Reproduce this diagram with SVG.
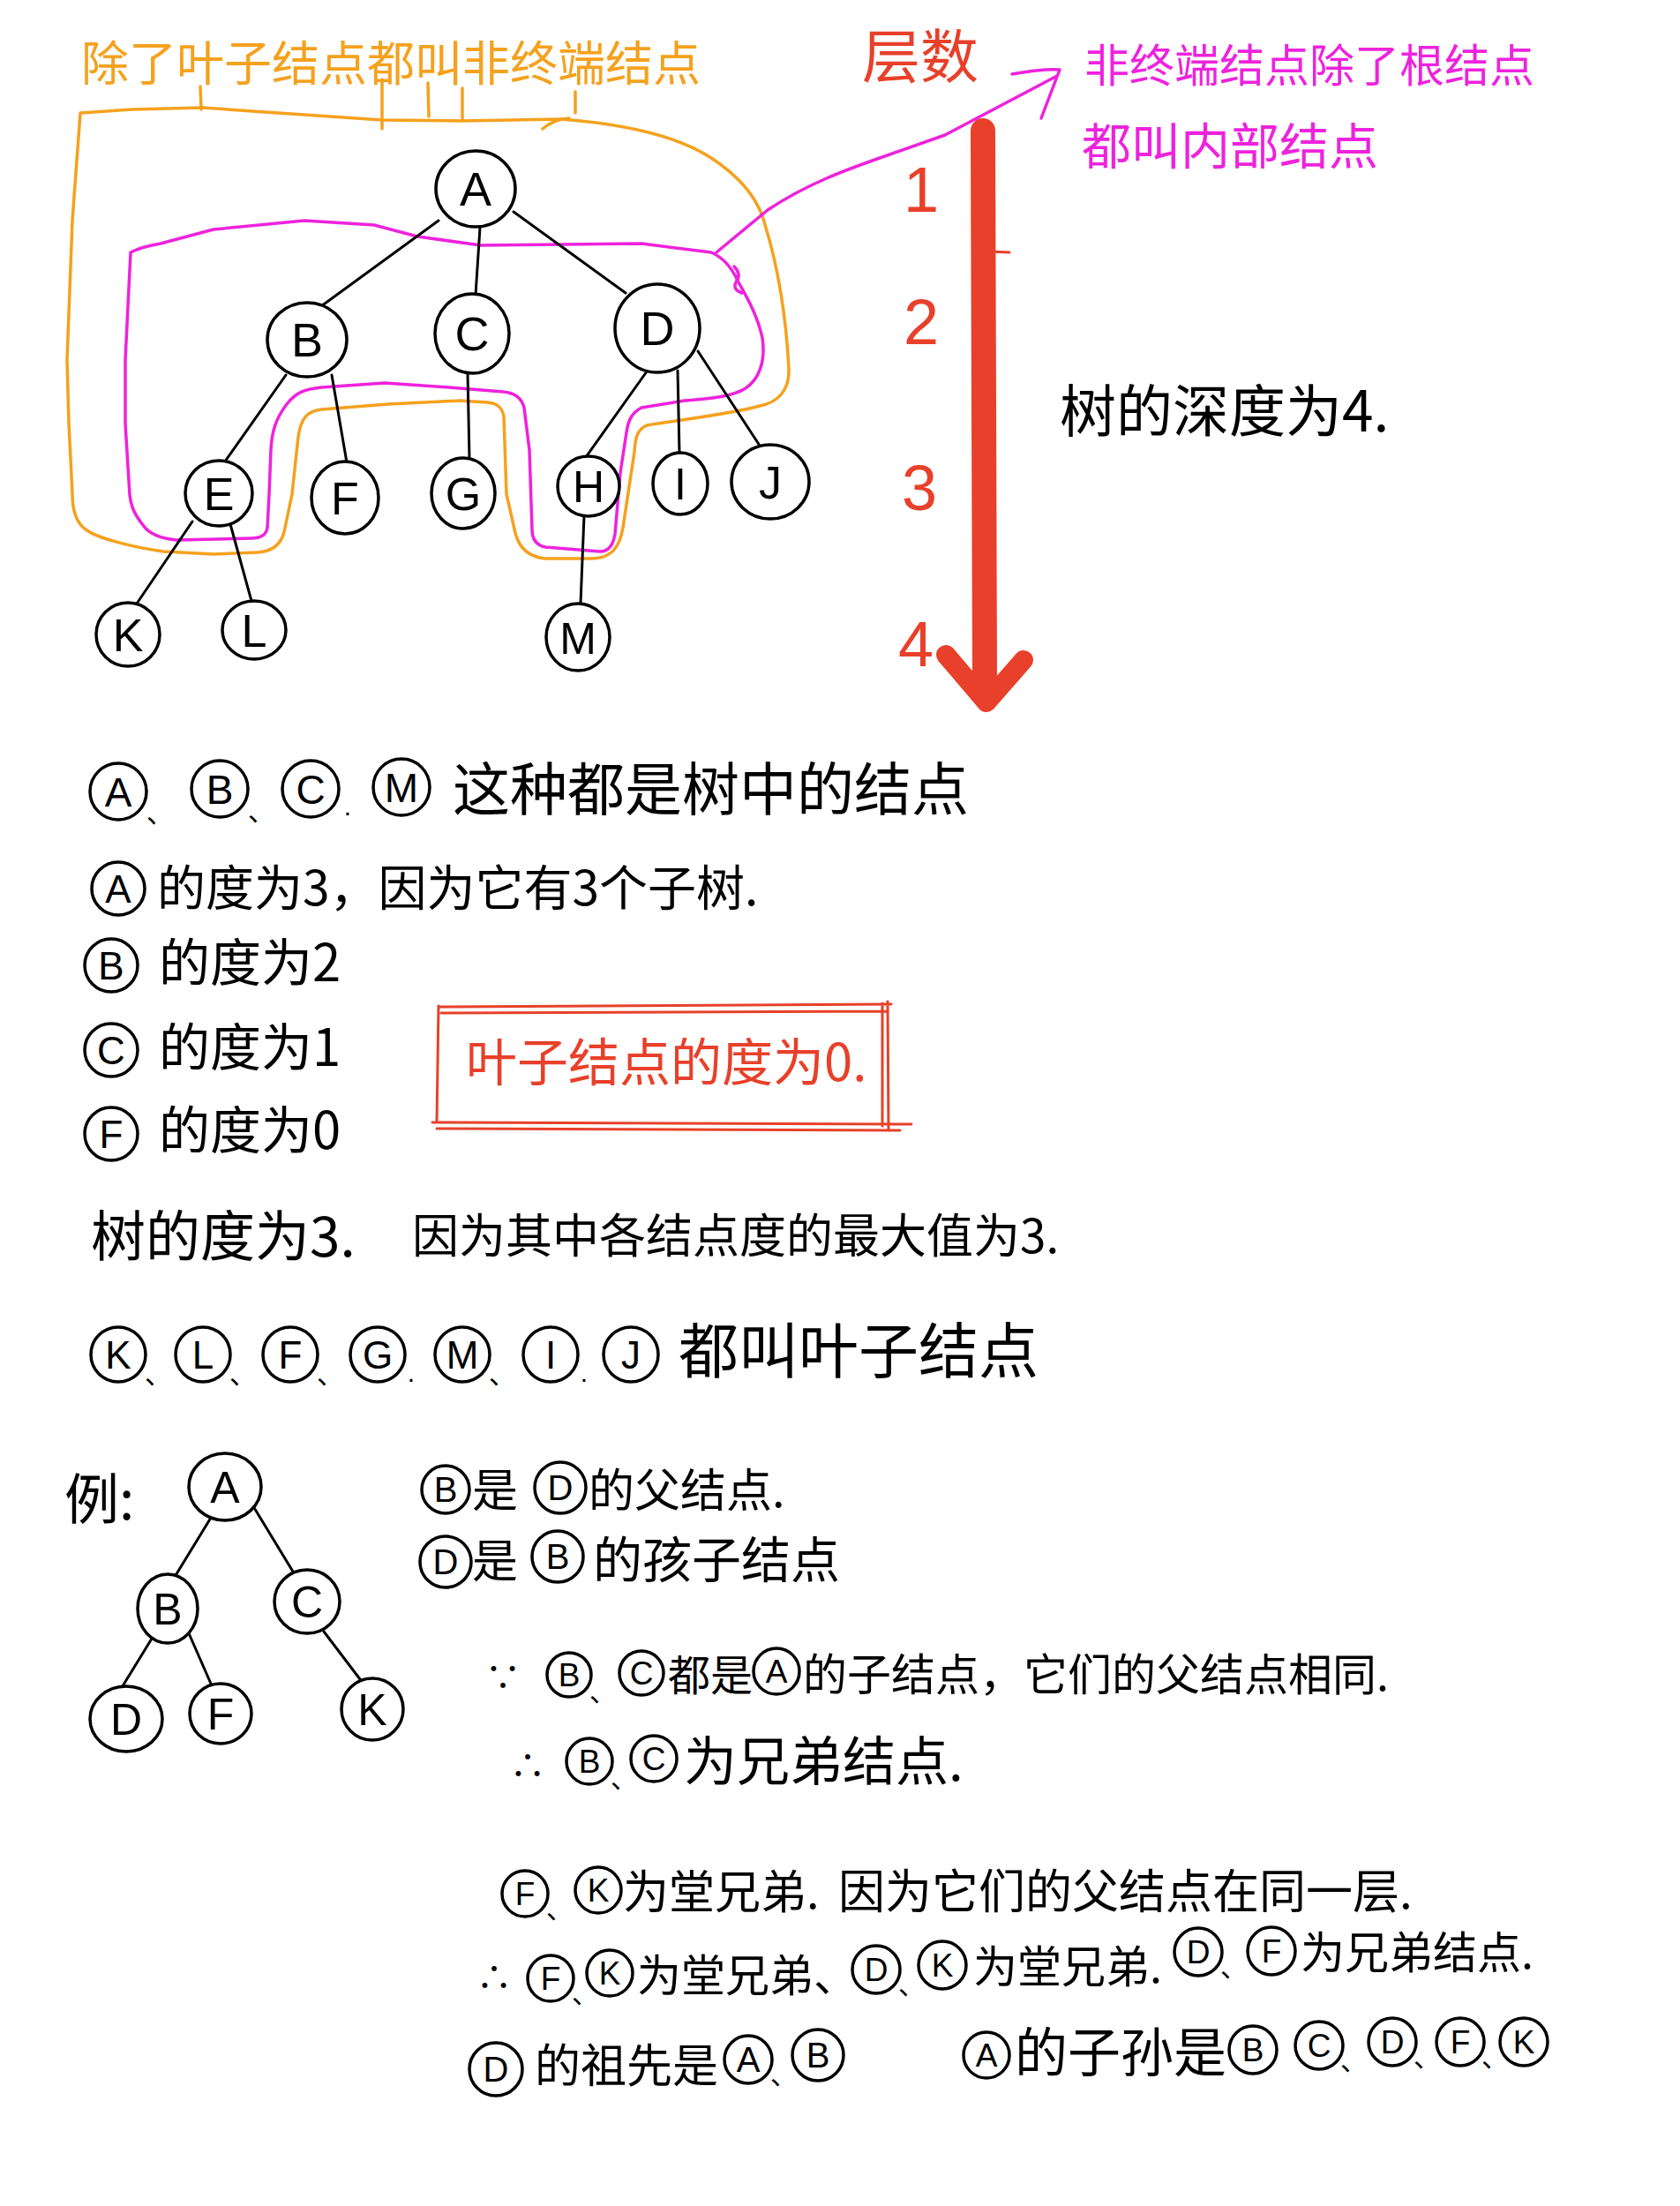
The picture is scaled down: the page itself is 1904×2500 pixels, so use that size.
<svg xmlns="http://www.w3.org/2000/svg" width="1904" height="2500" viewBox="0 0 1904 2500">
<style>
.cn{font-family:"Noto Sans CJK SC","Noto Sans",sans-serif}
.lt{font-family:"Liberation Sans",Arial,sans-serif;text-anchor:middle}
.node{fill:#fff;stroke:#000;stroke-width:3.5}
.edge{stroke:#000;stroke-width:3;fill:none;stroke-linecap:round}
.sc{fill:none;stroke:#000;stroke-width:3.5}
.or{stroke:#F5A11E;fill:none;stroke-width:3.5;stroke-linejoin:round;stroke-linecap:round}
.mg{stroke:#EE22DD;fill:none;stroke-width:3.5;stroke-linejoin:round;stroke-linecap:round}
.rd{stroke:#E8402A;fill:none;stroke-linejoin:round;stroke-linecap:round}
.sep{font-family:"Noto Sans CJK SC",sans-serif;font-size:30px}
</style>
<rect width="1904" height="2500" fill="#fff"/>

<!-- annotations top -->
<g id="annotations">
  <text class="cn" x="92" y="92" font-size="54" fill="#F5A11E">除了叶子结点都叫非终端结点</text>
  <path class="or" d="M227,98 L228,124 M433,90 L433,146 M485,94 L486,132 M524,100 L524,136 M652,104 L652,128 M615,146 Q628,135 645,134"/>
  <path class="or" d="M91,128 L150,124 L230,122 L300,127 L433,136 L524,137 L636,135 C700,140 765,152 806,179 C835,198 855,220 864,245 C882,300 891,360 894,418 C895,442 882,456 861,460 C835,468 770,476 733,482 C722,487 720,496 719,512 L706,598 C702,622 692,632 672,633 L618,633 C598,631 588,620 584,604 L574,560 L571,472 C569,461 563,457 552,456 L521,454 L440,458 L364,464 C348,466 341,474 338,495 L331,560 L322,603 C318,618 308,625 292,626 L242,628 L185,625 C150,620 110,610 97,600 C86,592 82,578 82,560 L78,480 L76,408 L82,250 Z"/>
  <path class="mg" d="M148,286 C160,280 170,278 182,276 L242,260 L345,250 L424,255 L473,268 L545,278 L727,276 L806,286 C820,292 830,305 836,318 C845,335 858,355 864,383 C868,410 860,430 845,440 C830,450 800,452 776,454 L727,462 C716,468 712,476 710,490 L703,536 L697,605 C695,618 690,625 680,625 L618,620 C608,618 603,612 603,600 L600,510 L594,462 C591,450 582,445 570,444 L509,439 L436,434 L364,439 C345,441 335,445 325,458 C312,475 308,490 307,510 L305,560 L303,598 C302,606 295,610 285,610 L200,612 C180,610 168,604 162,595 C150,580 148,570 147,561 L142,480 L142,408 Z"/>
  <path class="mg" d="M832,302 q9,9 2,18 q-4,8 7,12"/>
  <path class="mg" d="M812,286 L870,238 C915,208 960,192 1000,178 L1071,153 L1198,86 M1147,84 C1170,80 1190,78 1201,79 L1180,134"/>
  <text class="cn" x="977" y="88" font-size="66" fill="#E8402A">层数</text>
  <text class="cn" x="1229" y="93" font-size="51" fill="#EE22DD">非终端结点除了根结点</text>
  <text class="cn" x="1226" y="186" font-size="56" fill="#EE22DD">都叫内部结点</text>
  <path class="rd" d="M1114,148 L1116,770" stroke-width="28" stroke-linecap="butt"/>
  <path class="rd" d="M1072,742 L1118,796 L1160,748" stroke-width="22"/>
  <path class="rd" d="M1120,285 L1144,286" stroke-width="3"/>
  <g class="lt" fill="#E8402A" font-size="72">
    <text x="1044" y="240">1</text>
    <text x="1044" y="390">2</text>
    <text x="1042" y="578">3</text>
    <text x="1038" y="755">4</text>
  </g>
  <text class="cn" x="1201" y="489" font-size="64" fill="#000">树的深度为4.</text>
</g>

<!-- connectors -->
<g id="connectors" class="edge">
  <line x1="497" y1="250" x2="364" y2="347"/>
  <line x1="544" y1="258" x2="539" y2="334"/>
  <line x1="582" y1="240" x2="709" y2="332"/>
  <line x1="324" y1="425" x2="255" y2="523"/>
  <line x1="376" y1="425" x2="393" y2="524"/>
  <line x1="530" y1="423" x2="532" y2="520"/>
  <line x1="733" y1="421" x2="664" y2="518"/>
  <line x1="768" y1="420" x2="770" y2="513"/>
  <line x1="791" y1="398" x2="861" y2="505"/>
  <line x1="218" y1="591" x2="155" y2="684"/>
  <line x1="261" y1="594" x2="285" y2="681"/>
  <line x1="662" y1="584" x2="658" y2="684"/>
  <line x1="239" y1="1720" x2="198" y2="1787"/>
  <line x1="287" y1="1707" x2="332" y2="1781"/>
  <line x1="172" y1="1857" x2="137" y2="1914"/>
  <line x1="214" y1="1851" x2="239" y2="1908"/>
  <line x1="367" y1="1849" x2="408" y2="1903"/>
</g>

<!-- tree 1 nodes -->
<g id="t1-A"><ellipse class="node" cx="539" cy="214" rx="45" ry="43"/><text class="lt" x="539" y="233" font-size="54">A</text></g>
<g id="t1-B"><ellipse class="node" cx="348" cy="385" rx="45" ry="42"/><text class="lt" x="348" y="404" font-size="54">B</text></g>
<g id="t1-C"><ellipse class="node" cx="535" cy="378" rx="42" ry="45"/><text class="lt" x="535" y="397" font-size="54">C</text></g>
<g id="t1-D"><ellipse class="node" cx="745" cy="372" rx="48" ry="50"/><text class="lt" x="745" y="391" font-size="54">D</text></g>
<g id="t1-E"><ellipse class="node" cx="248" cy="559" rx="38" ry="37"/><text class="lt" x="248" y="578" font-size="52">E</text></g>
<g id="t1-F"><ellipse class="node" cx="391" cy="564" rx="38" ry="41"/><text class="lt" x="391" y="583" font-size="52">F</text></g>
<g id="t1-G"><ellipse class="node" cx="525" cy="559" rx="36" ry="40"/><text class="lt" x="525" y="578" font-size="52">G</text></g>
<g id="t1-H"><ellipse class="node" cx="667" cy="551" rx="35" ry="34"/><text class="lt" x="667" y="569" font-size="50">H</text></g>
<g id="t1-I"><ellipse class="node" cx="771" cy="548" rx="31" ry="35"/><text class="lt" x="771" y="566" font-size="50">I</text></g>
<g id="t1-J"><ellipse class="node" cx="873" cy="546" rx="44" ry="42"/><text class="lt" x="873" y="565" font-size="52">J</text></g>
<g id="t1-K"><ellipse class="node" cx="145" cy="719" rx="36" ry="36"/><text class="lt" x="145" y="738" font-size="52">K</text></g>
<g id="t1-L"><ellipse class="node" cx="288" cy="714" rx="36" ry="33"/><text class="lt" x="288" y="733" font-size="52">L</text></g>
<g id="t1-M"><ellipse class="node" cx="655" cy="722" rx="36" ry="38"/><text class="lt" x="655" y="741" font-size="50">M</text></g>

<!-- middle text -->
<g id="line1">
  <circle class="sc" cx="134" cy="897" r="32"/><text class="lt" x="134" y="914" font-size="46">A</text><text class="sep" x="166" y="932">、</text>
  <circle class="sc" cx="249" cy="894" r="32"/><text class="lt" x="249" y="911" font-size="46">B</text><text class="sep" x="281" y="930">、</text>
  <circle class="sc" cx="352" cy="894" r="32"/><text class="lt" x="352" y="911" font-size="46">C</text><text class="lt" x="394" y="924" font-size="30">.</text>
  <circle class="sc" cx="455" cy="892" r="32"/><text class="lt" x="455" y="909" font-size="46">M</text>
  <text class="cn" x="513" y="918" font-size="65">这种都是树中的结点</text>
</g>
<g id="line2">
  <circle class="sc" cx="134" cy="1007" r="30"/><text class="lt" x="134" y="1023" font-size="44">A</text>
  <text class="cn" x="178" y="1026" font-size="55">的度为3，因为它有3个子树.</text>
</g>
<g id="line3">
  <circle class="sc" cx="126" cy="1094" r="30"/><text class="lt" x="126" y="1110" font-size="44">B</text>
  <text class="cn" x="180" y="1112" font-size="58">的度为2</text>
</g>
<g id="line4">
  <circle class="sc" cx="126" cy="1190" r="30"/><text class="lt" x="126" y="1206" font-size="44">C</text>
  <text class="cn" x="180" y="1208" font-size="58">的度为1</text>
</g>
<g id="line5">
  <circle class="sc" cx="126" cy="1285" r="30"/><text class="lt" x="126" y="1301" font-size="44">F</text>
  <text class="cn" x="180" y="1302" font-size="58">的度为0</text>
</g>
<g id="leafbox">
  <path class="rd" stroke-width="3" d="M497,1141 L1010,1138 M500,1148 L1005,1146 M497,1140 L495,1272 M1000,1137 L1000,1276 M1006,1135 L1007,1281 M490,1272 L1033,1274 M495,1279 L1020,1281"/>
  <text class="cn" x="528" y="1225" font-size="58" fill="#E8402A">叶子结点的度为0.</text>
</g>
<g id="line6">
  <text class="cn" x="103" y="1424" font-size="62">树的度为3.</text>
  <text class="cn" x="467" y="1420" font-size="53">因为其中各结点度的最大值为3.</text>
</g>
<g id="line7">
  <circle class="sc" cx="134" cy="1535" r="31"/><text class="lt" x="134" y="1551" font-size="44">K</text><text class="sep" x="164" y="1568">、</text>
  <circle class="sc" cx="230" cy="1535" r="31"/><text class="lt" x="230" y="1551" font-size="44">L</text><text class="sep" x="260" y="1568">、</text>
  <circle class="sc" cx="329" cy="1535" r="31"/><text class="lt" x="329" y="1551" font-size="44">F</text><text class="sep" x="359" y="1568">、</text>
  <circle class="sc" cx="428" cy="1535" r="31"/><text class="lt" x="428" y="1551" font-size="44">G</text><text class="lt" x="466" y="1566" font-size="30">.</text>
  <circle class="sc" cx="524" cy="1535" r="31"/><text class="lt" x="524" y="1551" font-size="44">M</text><text class="sep" x="554" y="1568">、</text>
  <circle class="sc" cx="624" cy="1535" r="31"/><text class="lt" x="624" y="1551" font-size="44">I</text><text class="lt" x="662" y="1566" font-size="30">.</text>
  <circle class="sc" cx="715" cy="1535" r="31"/><text class="lt" x="715" y="1551" font-size="44">J</text>
  <text class="cn" x="769" y="1556" font-size="68">都叫叶子结点</text>
</g>

<!-- example -->
<text class="cn" x="73" y="1722" font-size="62">例:</text>
<g id="t2-A"><ellipse class="node" cx="255" cy="1685" rx="41" ry="38"/><text class="lt" x="255" y="1703" font-size="50">A</text></g>
<g id="t2-B"><ellipse class="node" cx="190" cy="1823" rx="34" ry="39"/><text class="lt" x="190" y="1841" font-size="50">B</text></g>
<g id="t2-C"><ellipse class="node" cx="348" cy="1815" rx="37" ry="36"/><text class="lt" x="348" y="1833" font-size="50">C</text></g>
<g id="t2-D"><ellipse class="node" cx="143" cy="1948" rx="41" ry="37"/><text class="lt" x="143" y="1966" font-size="50">D</text></g>
<g id="t2-F"><ellipse class="node" cx="250" cy="1942" rx="35" ry="34"/><text class="lt" x="250" y="1960" font-size="50">F</text></g>
<g id="t2-K"><ellipse class="node" cx="422" cy="1937" rx="35" ry="35"/><text class="lt" x="422" y="1955" font-size="50">K</text></g>

<g id="row1">
  <circle class="sc" cx="505" cy="1688" r="27"/><text class="lt" x="505" y="1702" font-size="40">B</text>
  <text class="cn" x="535" y="1708" font-size="52">是</text>
  <circle class="sc" cx="635" cy="1686" r="29"/><text class="lt" x="635" y="1700" font-size="40">D</text>
  <text class="cn" x="667" y="1708" font-size="52">的父结点.</text>
</g>
<g id="row2">
  <circle class="sc" cx="505" cy="1770" r="29"/><text class="lt" x="505" y="1784" font-size="40">D</text>
  <text class="cn" x="535" y="1788" font-size="52">是</text>
  <circle class="sc" cx="632" cy="1764" r="29"/><text class="lt" x="632" y="1778" font-size="40">B</text>
  <text class="cn" x="672" y="1788" font-size="56">的孩子结点</text>
</g>
<g id="row3">
  <text class="cn" x="550" y="1915" font-size="40">∵</text>
  <circle class="sc" cx="645" cy="1898" r="25"/><text class="lt" x="645" y="1911" font-size="37">B</text><text class="sep" x="668" y="1928">、</text>
  <circle class="sc" cx="727" cy="1896" r="25"/><text class="lt" x="727" y="1909" font-size="37">C</text>
  <text class="cn" x="757" y="1916" font-size="48">都是</text>
  <circle class="sc" cx="880" cy="1894" r="26"/><text class="lt" x="880" y="1907" font-size="37">A</text>
  <text class="cn" x="910" y="1916" font-size="50">的子结点，它们的父结点相同.</text>
</g>
<g id="row4">
  <text class="cn" x="578" y="2015" font-size="40">∴</text>
  <circle class="sc" cx="668" cy="1996" r="26"/><text class="lt" x="668" y="2009" font-size="37">B</text><text class="sep" x="692" y="2026">、</text>
  <circle class="sc" cx="741" cy="1993" r="26"/><text class="lt" x="741" y="2006" font-size="37">C</text>
  <text class="cn" x="775" y="2018" font-size="60">为兄弟结点.</text>
</g>
<g id="row5">
  <circle class="sc" cx="595" cy="2146" r="26"/><text class="lt" x="595" y="2159" font-size="37">F</text><text class="sep" x="619" y="2174">、</text>
  <circle class="sc" cx="678" cy="2142" r="26"/><text class="lt" x="678" y="2155" font-size="37">K</text>
  <text class="cn" x="706" y="2163" font-size="52">为堂兄弟.</text>
  <text class="cn" x="950" y="2163" font-size="53">因为它们的父结点在同一层.</text>
</g>
<g id="row6">
  <text class="cn" x="540" y="2255" font-size="40">∴</text>
  <circle class="sc" cx="624" cy="2242" r="26"/><text class="lt" x="624" y="2255" font-size="37">F</text><text class="sep" x="648" y="2270">、</text>
  <circle class="sc" cx="691" cy="2236" r="26"/><text class="lt" x="691" y="2249" font-size="37">K</text>
  <text class="cn" x="722" y="2257" font-size="50">为堂兄弟、</text>
  <circle class="sc" cx="993" cy="2232" r="27"/><text class="lt" x="993" y="2245" font-size="37">D</text><text class="sep" x="1018" y="2260">、</text>
  <circle class="sc" cx="1068" cy="2227" r="27"/><text class="lt" x="1068" y="2240" font-size="37">K</text>
  <text class="cn" x="1103" y="2247" font-size="50">为堂兄弟.</text>
  <circle class="sc" cx="1358" cy="2212" r="27"/><text class="lt" x="1358" y="2225" font-size="37">D</text><text class="sep" x="1383" y="2240">、</text>
  <circle class="sc" cx="1441" cy="2211" r="27"/><text class="lt" x="1441" y="2224" font-size="37">F</text>
  <text class="cn" x="1474" y="2231" font-size="50">为兄弟结点.</text>
</g>
<g id="row7">
  <circle class="sc" cx="562" cy="2345" r="30"/><text class="lt" x="562" y="2359" font-size="40">D</text>
  <text class="cn" x="606" y="2360" font-size="52">的祖先是</text>
  <circle class="sc" cx="848" cy="2334" r="27"/><text class="lt" x="848" y="2348" font-size="40">A</text><text class="sep" x="873" y="2362">、</text>
  <circle class="sc" cx="927" cy="2329" r="29"/><text class="lt" x="927" y="2343" font-size="40">B</text>
  <circle class="sc" cx="1118" cy="2329" r="26"/><text class="lt" x="1118" y="2342" font-size="37">A</text>
  <text class="cn" x="1150" y="2348" font-size="60">的子孙是</text>
  <circle class="sc" cx="1420" cy="2323" r="27"/><text class="lt" x="1420" y="2336" font-size="37">B</text>
  <circle class="sc" cx="1495" cy="2318" r="27"/><text class="lt" x="1495" y="2331" font-size="37">C</text><text class="sep" x="1519" y="2346">、</text>
  <circle class="sc" cx="1578" cy="2314" r="27"/><text class="lt" x="1578" y="2327" font-size="37">D</text><text class="sep" x="1602" y="2342">、</text>
  <circle class="sc" cx="1655" cy="2314" r="27"/><text class="lt" x="1655" y="2327" font-size="37">F</text><text class="sep" x="1679" y="2342">、</text>
  <circle class="sc" cx="1727" cy="2314" r="27"/><text class="lt" x="1727" y="2327" font-size="37">K</text>
</g>
</svg>
